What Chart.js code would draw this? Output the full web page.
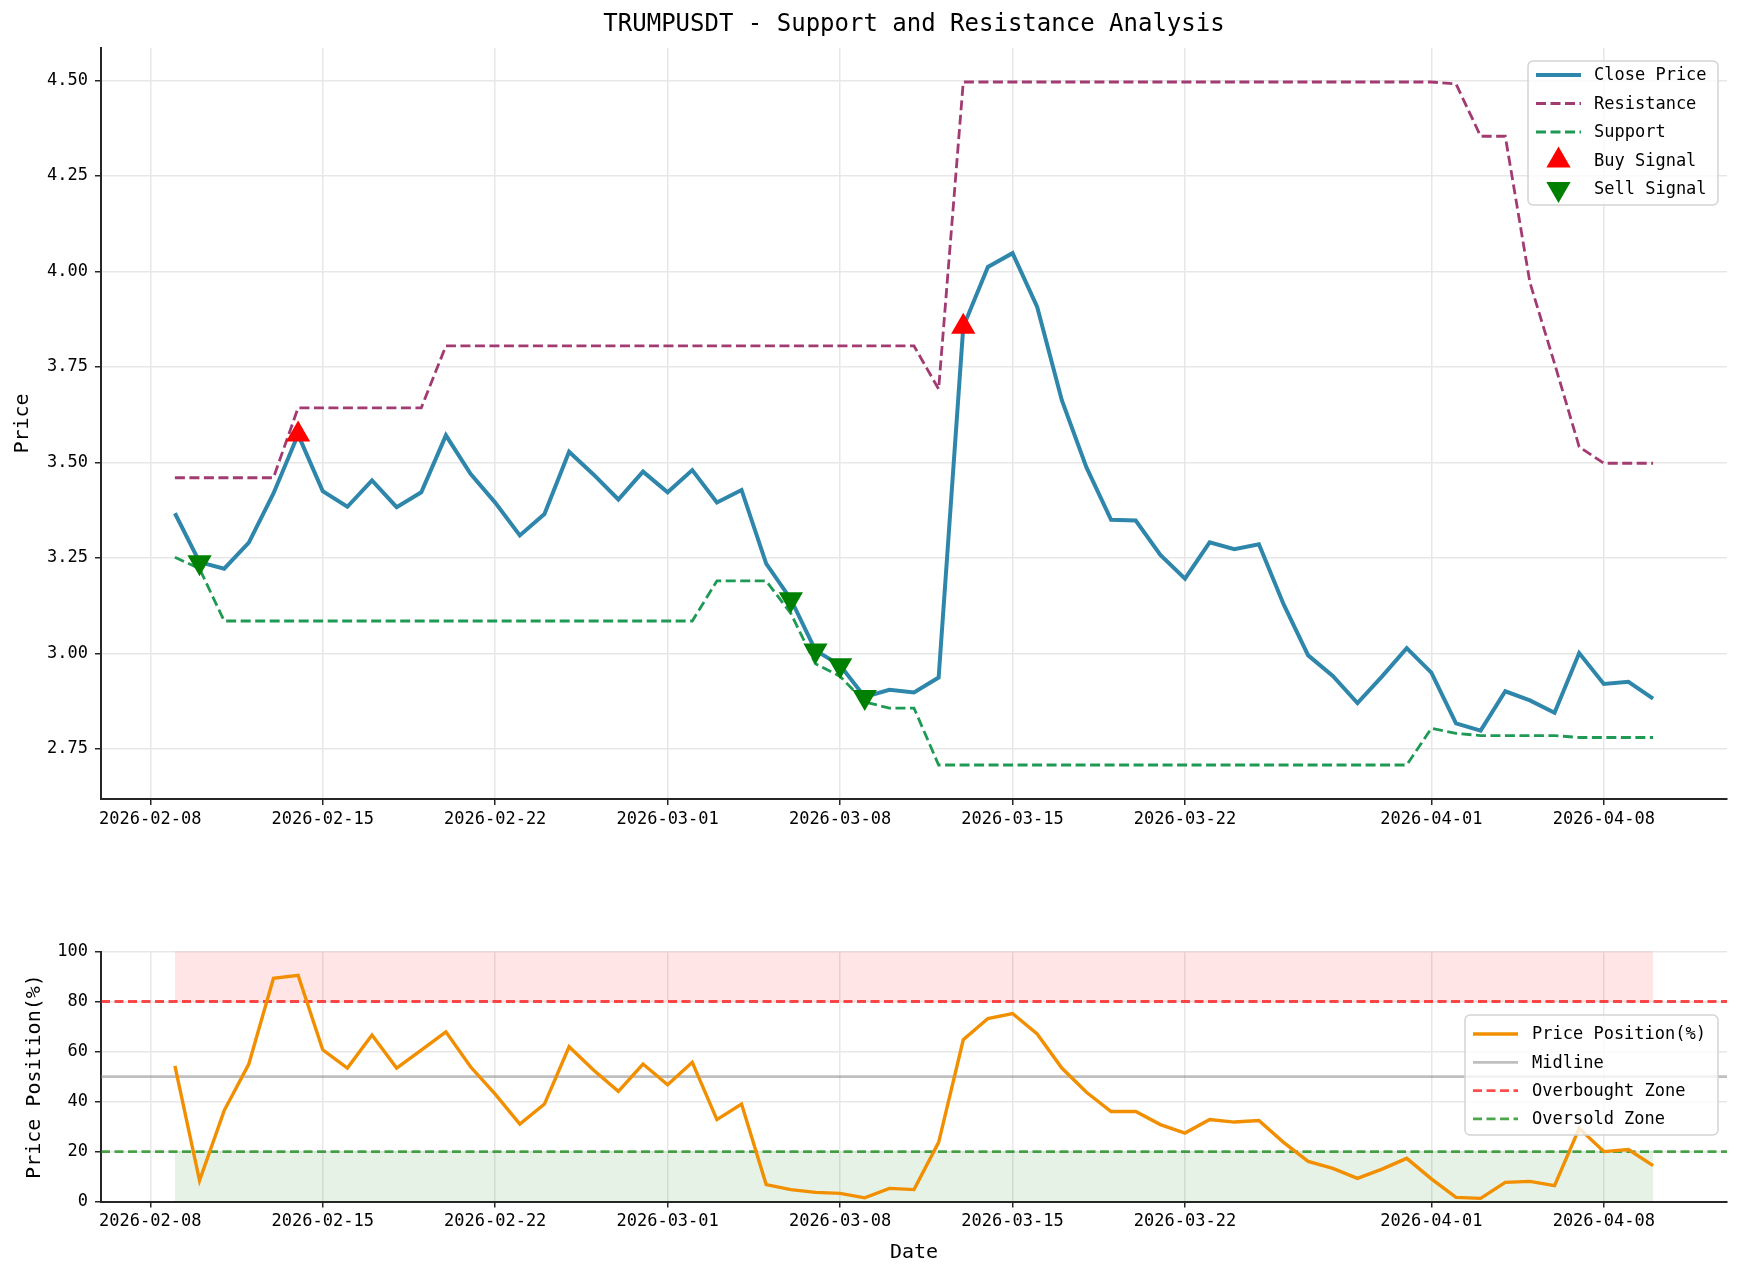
<!DOCTYPE html>
<html lang="en">
<head>
<meta charset="UTF-8">
<title>TRUMPUSDT - Support and Resistance Analysis</title>
<script src="https://cdn.jsdelivr.net/npm/chart.js"></script>
<style>
  html, body { margin: 0; padding: 0; background: #fff; }
  #wrap { position: relative; width: 1743px; height: 1280px; }
  #topBox { position: absolute; left: 0; top: 0; width: 1743px; height: 870px; }
  #botBox { position: absolute; left: 0; top: 870px; width: 1743px; height: 410px; }
</style>
</head>
<body>
<div id="wrap">
  <div id="topBox"><canvas id="priceChart"></canvas></div>
  <div id="botBox"><canvas id="positionChart"></canvas></div>
</div>

<script>
// ---- data (one value per day, starting at startDate) ----
const startDate = '2026-02-09';

const closePrice = [
  3.367, 3.239, 3.222, 3.290, 3.419, 3.573, 3.425, 3.384, 3.453, 3.383,
  3.422, 3.571, 3.470, 3.395, 3.309, 3.365, 3.528, 3.468, 3.403, 3.476,
  3.422, 3.480, 3.395, 3.428, 3.235, 3.142, 3.008, 2.969, 2.886, 2.905,
  2.898, 2.937, 3.855, 4.012, 4.048, 3.907, 3.663, 3.487, 3.350, 3.348,
  3.258, 3.196, 3.291, 3.273, 3.286, 3.129, 2.995, 2.941, 2.870, 2.940,
  3.014, 2.950, 2.817, 2.798, 2.901, 2.877, 2.845, 3.001, 2.920, 2.926,
  2.882
];

const resistance = [
  3.460, 3.460, 3.460, 3.460, 3.460, 3.643, 3.643, 3.643, 3.643, 3.643,
  3.643, 3.805, 3.805, 3.805, 3.805, 3.805, 3.805, 3.805, 3.805, 3.805,
  3.805, 3.805, 3.805, 3.805, 3.805, 3.805, 3.805, 3.805, 3.805, 3.805,
  3.805, 3.692, 4.496, 4.496, 4.496, 4.496, 4.496, 4.496, 4.496, 4.496,
  4.496, 4.496, 4.496, 4.496, 4.496, 4.496, 4.496, 4.496, 4.496, 4.496,
  4.496, 4.496, 4.491, 4.354, 4.354, 3.971, 3.759, 3.541, 3.498, 3.498,
  3.498
];

const support = [
  3.252, 3.222, 3.085, 3.085, 3.085, 3.085, 3.085, 3.085, 3.085, 3.085,
  3.085, 3.085, 3.085, 3.085, 3.085, 3.085, 3.085, 3.085, 3.085, 3.085,
  3.085, 3.085, 3.190, 3.190, 3.190, 3.105, 2.973, 2.940, 2.873, 2.857,
  2.857, 2.708, 2.708, 2.708, 2.708, 2.708, 2.708, 2.708, 2.708, 2.708,
  2.708, 2.708, 2.708, 2.708, 2.708, 2.708, 2.708, 2.708, 2.708, 2.708,
  2.708, 2.804, 2.791, 2.785, 2.785, 2.785, 2.785, 2.780, 2.780, 2.780,
  2.780
];

const pricePosition = [
  54.3,  8.4, 36.4, 55.0, 89.3, 90.5, 60.7, 53.4, 66.6, 53.4,
  60.6, 67.9, 53.9, 43.0, 31.0, 39.0, 61.9, 52.5, 44.1, 55.0,
  46.7, 55.7, 32.8, 39.0,  6.8,  4.8,  3.7,  3.3,  1.5,  5.3,
   4.8, 23.7, 64.7, 73.2, 75.2, 67.0, 53.4, 43.7, 36.0, 36.0,
  30.8, 27.4, 32.8, 31.8, 32.4, 23.7, 16.1, 13.3,  9.3, 13.0,
  17.3,  9.1,  1.7,  1.3,  7.7,  8.1,  6.4, 29.3, 20.0, 20.8,
  14.4
];

const buyDates = ['2026-02-14', '2026-03-13'];
const sellDates = ['2026-02-10', '2026-03-06', '2026-03-07', '2026-03-08', '2026-03-09'];

const dateTicks = ['2026-02-08', '2026-02-15', '2026-02-22', '2026-03-01', '2026-03-08',
                   '2026-03-15', '2026-03-22', '2026-04-01', '2026-04-08'];
const priceTicks = [2.75, 3.00, 3.25, 3.50, 3.75, 4.00, 4.25, 4.50];
const positionTicks = [0, 20, 40, 60, 80, 100];

const overbought = 80;
const oversold = 20;
const midline = 50;

// ---- helpers ----
const DAY = 86400000;
const t0 = Date.parse(startDate + 'T00:00:00Z');
const dayOf = s => Math.round((Date.parse(s + 'T00:00:00Z') - t0) / DAY);
const lastDay = closePrice.length - 1;
const xMin = -3, xMax = lastDay + 3;

const FONT = "'DejaVu Sans Mono', 'Liberation Mono', monospace";
Chart.defaults.font.family = FONT;
Chart.defaults.color = '#000';

const axisColor = '#262626';
const gridColor = '#e7e7e7';

function series(values) {
  return values.map((v, i) => ({ x: i, y: v }));
}
function signalPoints(list) {
  return list.map(d => ({ x: dayOf(d), y: closePrice[dayOf(d)] }));
}

function xAxis(height, title) {
  return {
    type: 'linear', min: xMin, max: xMax,
    afterBuildTicks: s => { s.ticks = dateTicks.map(d => ({ value: dayOf(d) })); },
    afterFit: s => { s.height = height; },
    ticks: {
      autoSkip: false, maxRotation: 0, padding: 4,
      font: { size: 17 },
      callback: v => dateTicks.find(d => dayOf(d) === v) || ''
    },
    grid: { color: gridColor, lineWidth: 1.5, tickColor: axisColor, tickLength: 6, tickWidth: 1.5 },
    border: { color: axisColor, width: 2 },
    title: title
  };
}

function yAxis(min, max, ticks, fmt, title) {
  return {
    type: 'linear', min: min, max: max,
    afterBuildTicks: s => { s.ticks = ticks.map(v => ({ value: v })); },
    afterFit: s => { s.width = 101; },
    ticks: { padding: 7, font: { size: 17 }, callback: fmt },
    grid: { color: gridColor, lineWidth: 1.5, tickColor: axisColor, tickLength: 6, tickWidth: 1.5 },
    border: { color: axisColor, width: 2 },
    title: title
  };
}

function tri(ctx, x, y, r, down, color) {
  const s = down ? -1 : 1;
  ctx.beginPath();
  ctx.moveTo(x, y - s * r);
  ctx.lineTo(x + r * 0.866, y + s * r * 0.5);
  ctx.lineTo(x - r * 0.866, y + s * r * 0.5);
  ctx.closePath();
  ctx.fillStyle = color;
  ctx.fill();
}

// title drawn over the centre of the plot area
const plotTitle = {
  id: 'plotTitle',
  afterDraw(chart, args, o) {
    if (!o.text) return;
    const ctx = chart.ctx, ca = chart.chartArea;
    ctx.save();
    ctx.font = o.size + 'px ' + FONT;
    ctx.fillStyle = '#000';
    ctx.textAlign = 'center';
    ctx.textBaseline = 'middle';
    ctx.fillText(o.text, (ca.left + ca.right) / 2, o.y);
    ctx.restore();
  }
};

// matplotlib-like boxed legend inside the plot
const boxLegend = {
  id: 'boxLegend',
  afterDraw(chart, args, o) {
    if (!o.box) return;
    const ctx = chart.ctx;
    const items = chart.data.datasets.filter(d => d.inLegend);
    const [bx, by, bw, bh] = o.box;
    ctx.save();
    ctx.beginPath();
    ctx.roundRect(bx, by, bw, bh, 5);
    ctx.fillStyle = 'rgba(255,255,255,0.8)';
    ctx.fill();
    ctx.strokeStyle = '#d4d4d4';
    ctx.lineWidth = 1.5;
    ctx.stroke();
    ctx.font = '17px ' + FONT;
    ctx.textBaseline = 'middle';
    ctx.textAlign = 'left';
    items.forEach((d, i) => {
      const cy = o.row0 + i * o.rowH;
      if (d.showLine === false) {
        tri(ctx, (o.hx0 + o.hx1) / 2, cy, d.pointRadius, d.pointRotation === 180, d.pointBackgroundColor);
      } else {
        ctx.strokeStyle = d.borderColor;
        ctx.lineWidth = d.borderWidth;
        ctx.setLineDash(d.borderDash || []);
        ctx.beginPath();
        ctx.moveTo(o.hx0, cy);
        ctx.lineTo(o.hx1, cy);
        ctx.stroke();
        ctx.setLineDash([]);
      }
      ctx.fillStyle = '#000';
      ctx.fillText(d.label, o.tx, cy + 1);
    });
    ctx.restore();
  }
};

// ---- top: price with support / resistance ----
new Chart(document.getElementById('priceChart'), {
  type: 'line',
  data: {
    datasets: [
      { label: 'Close Price', data: series(closePrice), borderColor: '#2E86AB', borderWidth: 4,
        pointRadius: 0, tension: 0, order: 3, inLegend: true },
      { label: 'Resistance', data: series(resistance), borderColor: '#A23B72', borderWidth: 2.8,
        borderDash: [10, 4.5], pointRadius: 0, tension: 0, order: 2, inLegend: true },
      { label: 'Support', data: series(support), borderColor: '#1E9A55', borderWidth: 2.8,
        borderDash: [10, 4.5], pointRadius: 0, tension: 0, order: 2, inLegend: true },
      { label: 'Buy Signal', data: signalPoints(buyDates), showLine: false, pointStyle: 'triangle',
        pointRadius: 14, pointRotation: 0, pointBackgroundColor: '#FF0000', pointBorderWidth: 0,
        order: 0, inLegend: true },
      { label: 'Sell Signal', data: signalPoints(sellDates), showLine: false, pointStyle: 'triangle',
        pointRadius: 14, pointRotation: 180, pointBackgroundColor: '#008000', pointBorderWidth: 0,
        order: 0, inLegend: true }
    ]
  },
  options: {
    responsive: true, maintainAspectRatio: false, animation: false, events: [],
    layout: { padding: { left: 0, right: 16, top: 48, bottom: 0 } },
    scales: {
      x: xAxis(71, { display: false }),
      y: yAxis(2.619, 4.585, priceTicks, v => v.toFixed(2),
        { display: true, text: 'Price', font: { size: 20 }, padding: { top: 11, bottom: 0 } })
    },
    plugins: {
      legend: { display: false },
      tooltip: { enabled: false },
      plotTitle: { text: 'TRUMPUSDT - Support and Resistance Analysis', size: 24, y: 25 },
      boxLegend: { box: [1528, 61, 190, 144], row0: 75, rowH: 28.5, hx0: 1536, hx1: 1581, tx: 1594 }
    }
  },
  plugins: [plotTitle, boxLegend]
});

// ---- bottom: price position within the channel ----
new Chart(document.getElementById('positionChart'), {
  type: 'line',
  data: {
    datasets: [
      { label: 'Price Position(%)', data: series(pricePosition), borderColor: '#F18F01', borderWidth: 3.4,
        pointRadius: 0, tension: 0, order: 1, inLegend: true },
      { label: 'Midline', data: [{ x: xMin, y: midline }, { x: xMax, y: midline }],
        borderColor: 'rgba(128,128,128,0.5)', borderWidth: 2.8, pointRadius: 0, order: 2, inLegend: true },
      { label: 'Overbought Zone', data: [{ x: xMin, y: overbought }, { x: xMax, y: overbought }],
        borderColor: 'rgba(255,0,0,0.7)', borderWidth: 2.8, borderDash: [9, 4.5], pointRadius: 0,
        order: 2, inLegend: true },
      { label: 'Oversold Zone', data: [{ x: xMin, y: oversold }, { x: xMax, y: oversold }],
        borderColor: 'rgba(0,128,0,0.7)', borderWidth: 2.8, borderDash: [9, 4.5], pointRadius: 0,
        order: 2, inLegend: true },
      { label: 'ob fill', data: [{ x: 0, y: 100 }, { x: lastDay, y: 100 }], fill: { value: overbought },
        backgroundColor: 'rgba(255,0,0,0.1)', borderColor: 'rgba(255,0,0,0.1)', borderWidth: 1,
        pointRadius: 0, order: 5 },
      { label: 'os fill', data: [{ x: 0, y: oversold }, { x: lastDay, y: oversold }], fill: { value: 0 },
        backgroundColor: 'rgba(0,128,0,0.1)', borderColor: 'rgba(0,128,0,0.0)', borderWidth: 0,
        pointRadius: 0, order: 5 }
    ]
  },
  options: {
    responsive: true, maintainAspectRatio: false, animation: false, events: [],
    layout: { padding: { left: 0, right: 16, top: 81.5, bottom: 0 } },
    scales: {
      x: xAxis(78.4, { display: true, text: 'Date', font: { size: 20 }, padding: { top: 0, bottom: 15 } }),
      y: yAxis(0, 100, positionTicks, v => String(v),
        { display: true, text: 'Price Position(%)', font: { size: 20 }, padding: { top: 22.5, bottom: 0 } })
    },
    plugins: {
      legend: { display: false },
      tooltip: { enabled: false },
      filler: { propagate: false },
      boxLegend: { box: [1465, 145, 253, 120], row0: 164, rowH: 28.3, hx0: 1473, hx1: 1518, tx: 1532 }
    }
  },
  plugins: [boxLegend]
});
</script>
</body>
</html>
